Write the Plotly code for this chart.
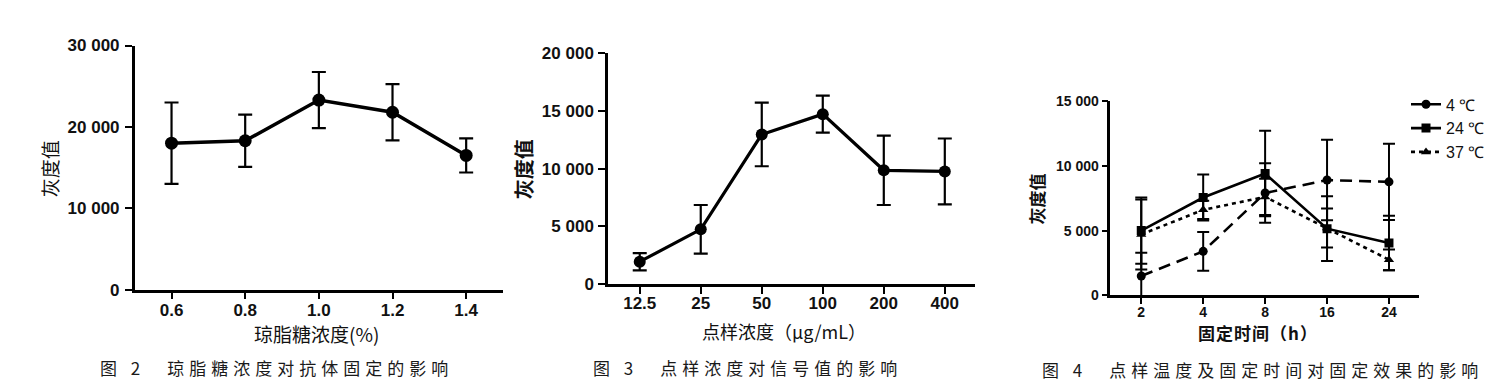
import plotly.graph_objects as go

W, H = 1501, 389

# ---------------- data ----------------
# Fig.2 agarose concentration
agarose_pct = [0.6, 0.8, 1.0, 1.2, 1.4]
agarose_gray = [18000, 18300, 23300, 21800, 16500]
agarose_err = [5000, 3200, 3450, 3450, 2100]

# Fig.3 spotting concentration
conc_labels = ["12.5", "25", "50", "100", "200", "400"]
conc_gray = [1950, 4750, 12950, 14700, 9850, 9750]
conc_err = [750, 2100, 2750, 1600, 3000, 2850]

# Fig.4 temperature & fixing time
time_labels = ["2", "4", "8", "16", "24"]
t4_gray = [1500, 3400, 7900, 8900, 8760]
t4_err = [1800, 1500, 2300, 3100, 2950]
t24_gray = [5000, 7550, 9400, 5150, 4050]
t24_err = [2550, 1770, 3300, 2500, 2100]
t37_gray = [4700, 6600, 7600, 5200, 2750]
t37_err = [2700, 700, 1400, 1500, 800]

y1_ticks = [0, 10000, 20000, 30000]
y2_ticks = [0, 5000, 10000, 15000, 20000]
y3_ticks = [0, 5000, 10000, 15000]


def fmt(v):
    return "0" if v == 0 else f"{v:,}".replace(",", " ")


def px(x):
    return x / W


def py(y):
    return 1 - y / H


fig = go.Figure()

# Panel 1
fig.add_trace(go.Scatter(
    x=agarose_pct, y=agarose_gray, mode="lines+markers",
    line=dict(color="black", width=3.5),
    marker=dict(symbol="circle", size=13, color="black"),
    error_y=dict(type="data", array=agarose_err, color="black", thickness=2.2, width=7),
    xaxis="x", yaxis="y", showlegend=False))

# Panel 2
fig.add_trace(go.Scatter(
    x=conc_labels, y=conc_gray, mode="lines+markers",
    line=dict(color="black", width=3.2),
    marker=dict(symbol="circle", size=12, color="black"),
    error_y=dict(type="data", array=conc_err, color="black", thickness=2.2, width=7),
    xaxis="x2", yaxis="y2", showlegend=False))

# Panel 3
series3 = [
    ("4 ℃", t4_gray, t4_err, "circle", "12px,7px"),
    ("24 ℃", t24_gray, t24_err, "square", "solid"),
    ("37 ℃", t37_gray, t37_err, "triangle-up", "4px,4px"),
]
for name, vals, errs, sym, dash in series3:
    fig.add_trace(go.Scatter(
        x=time_labels, y=vals, mode="lines+markers", name=name,
        line=dict(color="black", width=2.6, dash=dash),
        marker=dict(symbol=sym, size=9, color="black"),
        error_y=dict(type="data", array=errs, color="black", thickness=2, width=6),
        xaxis="x3", yaxis="y3", showlegend=True))

tickfont = dict(family="Liberation Sans, Arial, sans-serif", size=17, color="#111", weight="bold")
tickfont3 = dict(family="Liberation Sans, Arial, sans-serif", size=14, color="#111", weight="bold")
axcommon = dict(showline=True, linecolor="black", linewidth=2.5, showgrid=False,
                zeroline=False, ticks="outside", ticklen=7, tickwidth=2.2,
                tickcolor="black")

fig.update_layout(
    width=W, height=H, margin=dict(l=0, r=0, t=0, b=0),
    paper_bgcolor="white", plot_bgcolor="white",
    xaxis=dict(axcommon, domain=[px(126.7), px(495)], range=[0.5, 1.5],
               tickvals=agarose_pct, ticktext=[f"{v:.1f}" for v in agarose_pct],
               tickfont=tickfont, anchor="y", ticklabelstandoff=-4),
    yaxis=dict(axcommon, domain=[py(286.7), py(30)], range=[0, 30000],
               tickvals=y1_ticks, ticktext=[fmt(v) for v in y1_ticks],
               tickfont=tickfont, anchor="x", ticklabelstandoff=2),
    xaxis2=dict(axcommon, domain=[px(600), px(966.7)], type="category",
                range=[-0.52, 5.49], tickfont=tickfont, anchor="y2", ticklabelstandoff=-5),
    yaxis2=dict(axcommon, domain=[py(281), py(37.7)], range=[0, 20000],
                tickvals=y2_ticks, ticktext=[fmt(v) for v in y2_ticks],
                tickfont=tickfont, anchor="x2", ticklabelstandoff=1),
    xaxis3=dict(axcommon, domain=[px(1102.3), px(1410.7)], type="category",
                range=[-0.5, 4.48], tickfont=tickfont3, anchor="y3", ticklen=6,
                ticklabelstandoff=-4),
    yaxis3=dict(axcommon, domain=[py(292.7), py(88.3)], range=[0, 15000],
                tickvals=y3_ticks, ticktext=[fmt(v) for v in y3_ticks],
                tickfont=tickfont3, anchor="x3", ticklen=6),
    legend=dict(x=px(1398), y=py(74), xanchor="left", yanchor="top",
                font=dict(family="Liberation Sans, Arial, sans-serif", size=16, color="#111"),
                bgcolor="rgba(0,0,0,0)", tracegroupgap=0, itemwidth=30),
)

cjk = "Noto Sans CJK SC"
ann = []


def add_text(text, x, y, size, bold=False, angle=0, color="#111", spacing=None):
    t = f"<b>{text}</b>" if bold else text
    if spacing:
        t = f'<span style="letter-spacing:{spacing}px">{t}</span>'
    ann.append(dict(text=t, x=px(x), y=py(y), xref="paper", yref="paper",
                    showarrow=False, xanchor="center", yanchor="middle",
                    textangle=angle, font=dict(family=cjk, size=size, color=color)))


# axis titles
add_text("灰度值", 41, 160, 19, angle=-90)
add_text("琼脂糖浓度(%)", 308, 333, 19)
add_text("灰度值", 515, 160, 20, bold=True, angle=-90)
add_text("点样浓度（μg/mL）", 776, 330, 18)
add_text("灰度值", 1029, 192, 17, bold=True, angle=-90)
add_text("固定时间（h）", 1250, 332, 17, bold=True, spacing=1)

# captions
add_text("图 2　琼脂糖浓度对抗体固定的影响", 268, 369, 17, color="#1a1a1a", spacing=5)
add_text("图 3　点样浓度对信号值的影响", 739, 369, 17, color="#1a1a1a", spacing=5)
add_text("图 4　点样温度及固定时间对固定效果的影响", 1254, 371, 17, color="#1a1a1a", spacing=5)

fig.update_layout(annotations=ann)

fig.write_html("out.html")
